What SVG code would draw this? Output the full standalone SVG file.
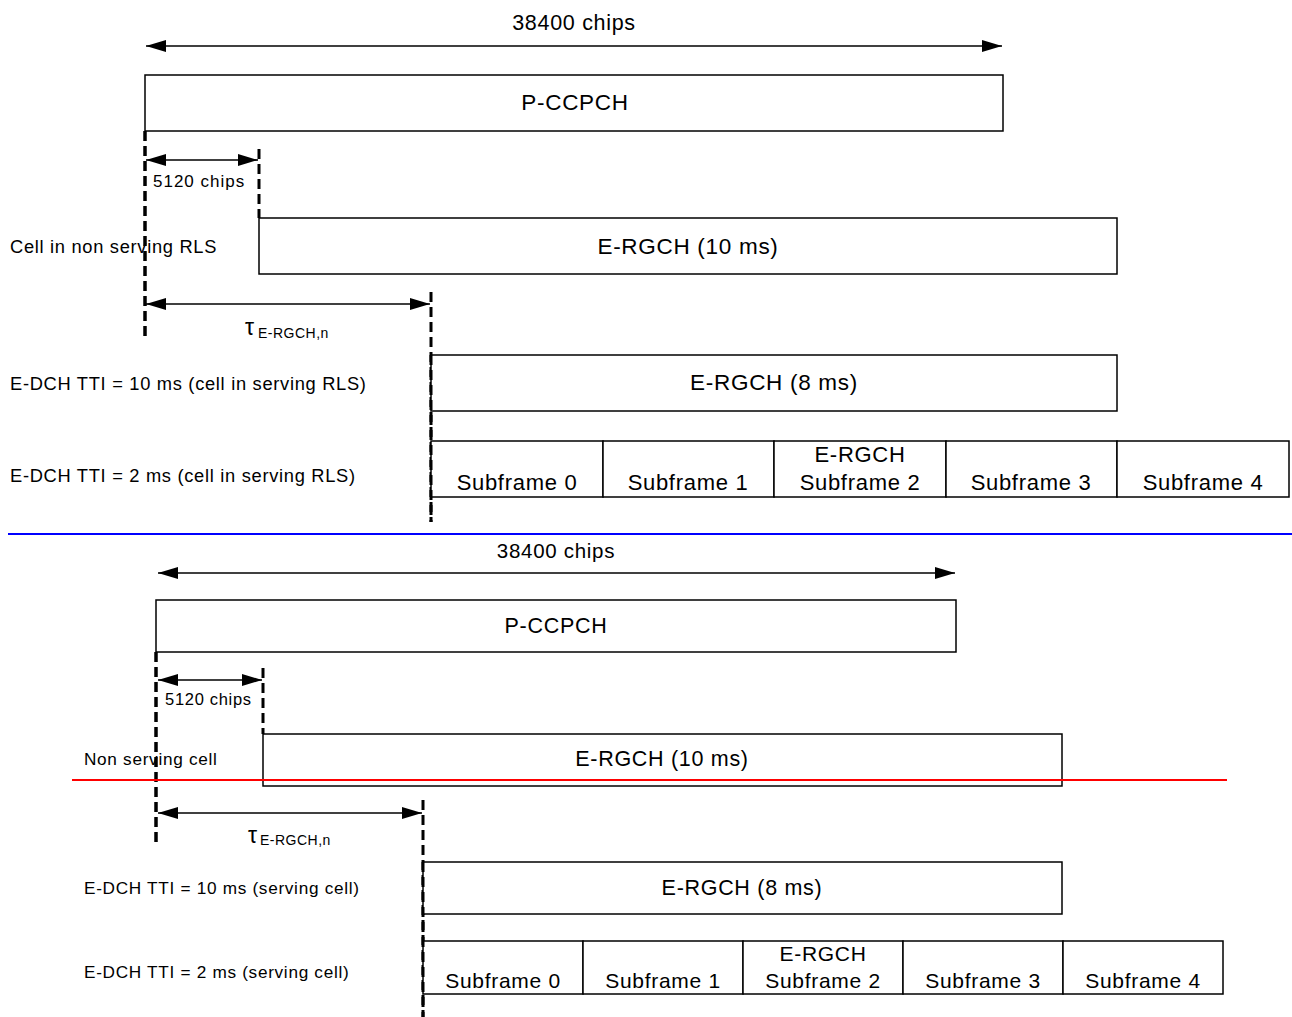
<svg xmlns="http://www.w3.org/2000/svg" width="1292" height="1017" viewBox="0 0 1292 1017">
<style>
text{font-family:"Liberation Sans",Arial,sans-serif;fill:#000;letter-spacing:0.7px}
.box{fill:#fff;stroke:#000;stroke-width:1.5}
.ln{stroke:#000;stroke-width:1.5;fill:none}
.dash{stroke:#000;stroke-width:3;stroke-dasharray:10 5;fill:none}
.c{text-anchor:middle}
</style>
<defs>
<marker id="ah" viewBox="0 0 20 12" refX="20" refY="6" markerWidth="20" markerHeight="12" markerUnits="userSpaceOnUse" orient="auto-start-reverse">
<path d="M0,0 L20,6 L0,12 z" fill="#000"/>
</marker>
</defs>
<g id="connectors">
<line class="ln" x1="146" y1="46" x2="1002" y2="46" marker-start="url(#ah)" marker-end="url(#ah)"/>
<line class="ln" x1="146" y1="160" x2="258" y2="160" marker-start="url(#ah)" marker-end="url(#ah)"/>
<line class="ln" x1="146" y1="304" x2="430" y2="304" marker-start="url(#ah)" marker-end="url(#ah)"/>
<line class="dash" x1="145" y1="131" x2="145" y2="338"/>
<line class="dash" x1="259" y1="149" x2="259" y2="218"/>
<line class="dash" x1="431" y1="292" x2="431" y2="522"/>
<line x1="8" y1="534" x2="1292" y2="534" stroke="#0000ff" stroke-width="2"/>
<line class="ln" x1="158" y1="573" x2="955" y2="573" marker-start="url(#ah)" marker-end="url(#ah)"/>
<line class="ln" x1="158" y1="680" x2="262" y2="680" marker-start="url(#ah)" marker-end="url(#ah)"/>
<line class="ln" x1="158" y1="813" x2="422" y2="813" marker-start="url(#ah)" marker-end="url(#ah)"/>
<line class="dash" x1="156" y1="652" x2="156" y2="843"/>
<line class="dash" x1="263" y1="668" x2="263" y2="734"/>
<line class="dash" x1="423" y1="800" x2="423" y2="1017"/>
</g>
<g id="top-labels">
<text class="c" x="574" y="30" font-size="21.5">38400 chips</text>
<text x="153" y="187" font-size="17" style="letter-spacing:1px">5120  chips</text>
<text x="10" y="253" font-size="18.3">Cell in non serving RLS</text>
<text x="10" y="390" font-size="18.3">E-DCH TTI = 10 ms (cell in serving RLS)</text>
<text x="10" y="482" font-size="18.3">E-DCH TTI = 2 ms (cell in serving RLS)</text>
<text x="245" y="335" font-size="23" font-family="'DejaVu Serif',serif">τ</text>
<text x="258" y="338" font-size="14" style="letter-spacing:0.5px">E-RGCH,n</text>
</g>
<g id="top-pccpch"><rect class="box" x="145" y="75" width="858" height="56"/><text class="c" x="575" y="110" font-size="22.5">P-CCPCH</text></g>
<g id="top-ergch10"><rect class="box" x="259" y="218" width="858" height="56"/><text class="c" x="688" y="254" font-size="22.5">E-RGCH (10 ms)</text></g>
<g id="top-ergch8"><rect class="box" x="431" y="355" width="686" height="56"/><text class="c" x="774" y="390" font-size="22.5">E-RGCH (8 ms)</text></g>
<g id="top-sf0"><rect class="box" x="431" y="441" width="172" height="56"/><text class="c" x="517" y="490" font-size="22">Subframe 0</text></g>
<g id="top-sf1"><rect class="box" x="603" y="441" width="171" height="56"/><text class="c" x="688" y="490" font-size="22">Subframe 1</text></g>
<g id="top-sf2"><rect class="box" x="774" y="441" width="172" height="56"/><text class="c" x="860" y="462" font-size="22">E-RGCH</text><text class="c" x="860" y="490" font-size="22">Subframe 2</text></g>
<g id="top-sf3"><rect class="box" x="946" y="441" width="171" height="56"/><text class="c" x="1031" y="490" font-size="22">Subframe 3</text></g>
<g id="top-sf4"><rect class="box" x="1117" y="441" width="172" height="56"/><text class="c" x="1203" y="490" font-size="22">Subframe 4</text></g>
<g id="bottom-labels">
<text class="c" x="556" y="558" font-size="20.5">38400 chips</text>
<text x="165" y="705" font-size="16.5">5120 chips</text>
<text x="84" y="765" font-size="17.2">Non serving cell</text>
<text x="84" y="894" font-size="17.2">E-DCH TTI = 10 ms (serving cell)</text>
<text x="84" y="978" font-size="17.2">E-DCH TTI = 2 ms (serving cell)</text>
<text x="248" y="843" font-size="23" font-family="'DejaVu Serif',serif">τ</text>
<text x="260" y="845" font-size="14" style="letter-spacing:0.5px">E-RGCH,n</text>
</g>
<g id="bot-pccpch"><rect class="box" x="156" y="600" width="800" height="52"/><text class="c" x="556" y="633" font-size="21.5">P-CCPCH</text></g>
<g id="bot-ergch10"><rect class="box" x="263" y="734" width="799" height="52"/><text class="c" x="662" y="766" font-size="21.5">E-RGCH (10 ms)</text></g>
<g id="bot-ergch8"><rect class="box" x="423" y="862" width="639" height="52"/><text class="c" x="742" y="895" font-size="21.5">E-RGCH (8 ms)</text></g>
<g id="bot-sf0"><rect class="box" x="423" y="941" width="160" height="53"/><text class="c" x="503" y="988" font-size="21">Subframe 0</text></g>
<g id="bot-sf1"><rect class="box" x="583" y="941" width="160" height="53"/><text class="c" x="663" y="988" font-size="21">Subframe 1</text></g>
<g id="bot-sf2"><rect class="box" x="743" y="941" width="160" height="53"/><text class="c" x="823" y="961" font-size="21">E-RGCH</text><text class="c" x="823" y="988" font-size="21">Subframe 2</text></g>
<g id="bot-sf3"><rect class="box" x="903" y="941" width="160" height="53"/><text class="c" x="983" y="988" font-size="21">Subframe 3</text></g>
<g id="bot-sf4"><rect class="box" x="1063" y="941" width="160" height="53"/><text class="c" x="1143" y="988" font-size="21">Subframe 4</text></g>
<g id="overlay">
<line class="dash" x1="145" y1="131" x2="145" y2="338"/>
<line class="dash" x1="431" y1="355" x2="431" y2="522"/>
<line class="dash" x1="156" y1="652" x2="156" y2="843"/>
<line class="dash" x1="423" y1="862" x2="423" y2="1017"/>
<line x1="72" y1="780" x2="1227" y2="780" stroke="#ff0000" stroke-width="2"/>
</g>
</svg>
